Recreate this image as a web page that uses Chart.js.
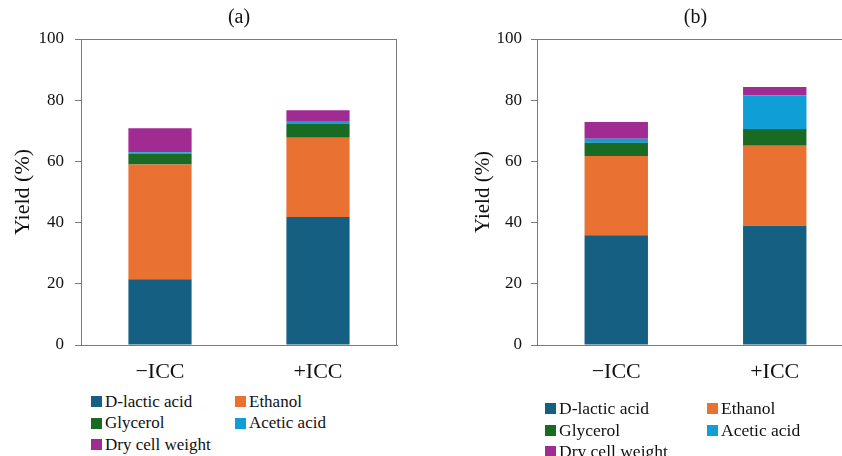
<!DOCTYPE html>
<html>
<head>
<meta charset="utf-8">
<script src="https://cdn.jsdelivr.net/npm/chart.js@4.4.1/dist/chart.umd.min.js"></script>
<style>
    html, body { margin: 0; padding: 0; background: #fff; }
    body { width: 842px; height: 456px; overflow: hidden; position: relative; }
    .panel { position: absolute; top: 0; }
    #panel-a { left: 0; width: 488px; height: 390px; }
    #panel-b { left: 456px; width: 488px; height: 390px; }
    .legend { position: absolute; display: grid; row-gap: 0; font-family: "Liberation Serif", "Times New Roman", serif; font-size: 17px; color: #111; }
    .legend .item { display: flex; align-items: center; height: 21.5px; white-space: nowrap; }
    .legend .box { width: 11px; height: 11px; margin-right: 3px; flex: none; }
    #legend-a { left: 91px; top: 391px; grid-template-columns: 144px 150px; }
    #legend-b { left: 545px; top: 398px; grid-template-columns: 162px 150px; font-size: 17.5px; }
</style>
</head>
<body>
<div class="panel" id="panel-a"><canvas id="chart-a"></canvas></div>
<div class="panel" id="panel-b"><canvas id="chart-b"></canvas></div>
<div class="legend" id="legend-a"></div>
<div class="legend" id="legend-b"></div>
<script>
// Categories and series
const categories = ['\u2212ICC', '+ICC'];
const seriesNames = ['D-lactic acid', 'Ethanol', 'Glycerol', 'Acetic acid', 'Dry cell weight'];
const seriesColors = ['#156082', '#E97132', '#196B24', '#0F9ED5', '#A02B93'];
const yTicks = [0, 20, 40, 60, 80, 100];

// Panel (a) values, %
const aDLactic = [21.5, 41.8];
const aEthanol = [37.5, 25.9];
const aGlycerol = [3.6, 4.7];
const aAcetic = [0.4, 0.8];
const aDryCell = [7.8, 3.5];

// Panel (b) values, %
const bDLactic = [35.9, 39.0];
const bEthanol = [25.9, 26.1];
const bGlycerol = [4.3, 5.5];
const bAcetic = [1.3, 10.9];
const bDryCell = [5.5, 2.8];

const axisColor = '#7a7a7a';
const textColor = '#111';
const serif = '"Liberation Serif", "Times New Roman", serif';

// Draws the box around the plot area
const framePlugin = {
    id: 'frame',
    afterDraw(chart) {
        const { ctx, chartArea } = chart;
        ctx.save();
        ctx.strokeStyle = axisColor;
        ctx.lineWidth = 1;
        ctx.strokeRect(chartArea.left + 0.5, chartArea.top + 0.5,
            chartArea.right - chartArea.left - 1, chartArea.bottom - chartArea.top);
        ctx.restore();
    }
};

function makeDatasets(values) {
    return values.map((data, i) => ({
        label: seriesNames[i],
        data: data,
        backgroundColor: seriesColors[i],
        borderWidth: 0,
        barPercentage: 0.4,
        categoryPercentage: 1
    }));
}

function makeChart(canvasId, title, values, opts) {
    const ctx = document.getElementById(canvasId).getContext('2d');
    return new Chart(ctx, {
        type: 'bar',
        data: {
            labels: categories,
            datasets: makeDatasets(values)
        },
        options: {
            responsive: true,
            maintainAspectRatio: false,
            animation: false,
            layout: { padding: { top: 0, right: opts.padRight, bottom: 0, left: 0 } },
            plugins: {
                legend: { display: false },
                tooltip: { enabled: false },
                title: {
                    display: true,
                    text: title,
                    fullSize: false,
                    color: textColor,
                    font: { family: serif, size: 20, weight: 'normal', lineHeight: 1.2 },
                    padding: { top: 6, bottom: 9 }
                }
            },
            scales: {
                x: {
                    stacked: true,
                    grid: { display: false, drawTicks: false },
                    border: { display: true, color: axisColor, width: 1 },
                    ticks: {
                        color: textColor,
                        padding: 14,
                        font: { family: serif, size: 22 }
                    },
                    afterFit(scale) { scale.height = 45; }
                },
                y: {
                    stacked: true,
                    min: 0,
                    max: 100,
                    afterBuildTicks(scale) { scale.ticks = yTicks.map(v => ({ value: v })); },
                    grid: { display: true, drawOnChartArea: false, drawTicks: true, tickLength: 6, color: axisColor },
                    border: { display: true, color: axisColor, width: 1 },
                    ticks: {
                        color: textColor,
                        padding: opts.tickPad,
                        font: { family: serif, size: 17 }
                    },
                    title: {
                        display: true,
                        text: 'Yield (%)',
                        color: textColor,
                        font: { family: serif, size: opts.titleSize },
                        padding: { top: opts.titlePad, bottom: 0 }
                    },
                    afterFit(scale) { scale.width = 81; }
                }
            }
        },
        plugins: [framePlugin]
    });
}

// HTML legend built from the chart datasets
function buildLegend(chart, elId) {
    const el = document.getElementById(elId);
    chart.data.datasets.forEach(ds => {
        const item = document.createElement('div');
        item.className = 'item';
        const box = document.createElement('span');
        box.className = 'box';
        box.style.background = ds.backgroundColor;
        const label = document.createElement('span');
        label.textContent = ds.label;
        item.appendChild(box);
        item.appendChild(label);
        el.appendChild(item);
    });
}

const chartA = makeChart('chart-a', '(a)',
    [aDLactic, aEthanol, aGlycerol, aAcetic, aDryCell],
    { padRight: 91, tickPad: 11, titleSize: 22, titlePad: 10 });
const chartB = makeChart('chart-b', '(b)',
    [bDLactic, bEthanol, bGlycerol, bAcetic, bDryCell],
    { padRight: 90, tickPad: 9, titleSize: 21, titlePad: 15 });

buildLegend(chartA, 'legend-a');
buildLegend(chartB, 'legend-b');
</script>
</body>
</html>
